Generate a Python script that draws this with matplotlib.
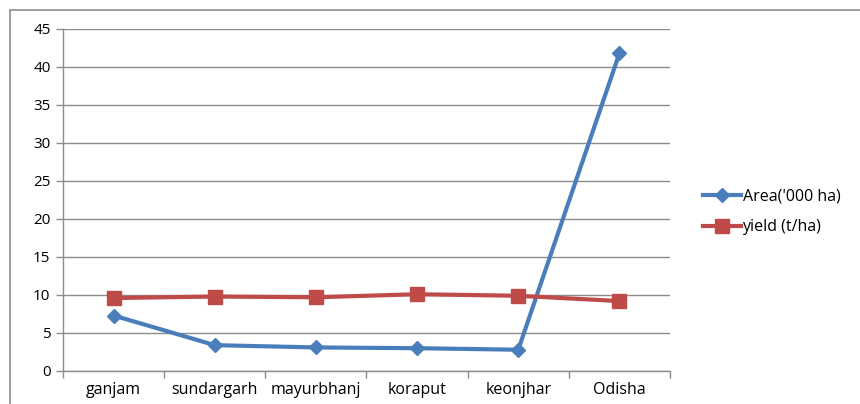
import numpy as np
import matplotlib.pyplot as plt
from matplotlib.patches import Rectangle

districts = ['ganjam', 'sundargarh', 'mayurbhanj', 'koraput', 'keonjhar', 'Odisha']
area = [7.3, 3.4, 3.1, 3.0, 2.8, 41.8]
yield_t = [9.6, 9.8, 9.7, 10.1, 9.9, 9.2]

plt.rcParams['font.family'] = ['Open Sans', 'DejaVu Sans']

fig = plt.figure(figsize=(8.6, 4.04), dpi=100)
# outer chart frame
fig.patches.append(Rectangle((10 / 860, -0.1), 1.0, 1 - 10 / 404 + 0.1,
                             transform=fig.transFigure, fill=False,
                             edgecolor='#8c8c8c', linewidth=1.2))

ax = fig.add_axes([63 / 860, 1 - 371 / 404, (670 - 63) / 860, (371 - 29) / 404])
x = np.arange(len(districts))

ax.plot(x, area, color='#4A7EBB', linewidth=3, marker='D', markersize=7,
        label="Area('000 ha)")
ax.plot(x, yield_t, color='#BE4B48', linewidth=3, marker='s', markersize=10,
        label='yield (t/ha)')

ax.set_xlim(-0.5, len(districts) - 0.5)
ax.set_ylim(0, 45)
ax.set_yticks(np.arange(0, 46, 5))
ax.set_xticks(x)
ax.set_xticklabels(districts, fontsize=11.5)
ax.set_xticks(np.arange(-0.5, len(districts)), minor=True)
ax.tick_params(axis='x', which='major', length=0, pad=8)
ax.tick_params(axis='x', which='minor', length=5, color='#8c8c8c', width=1)
ax.tick_params(axis='y', length=5, color='#8c8c8c', width=1, labelsize=11, pad=4)
ax.yaxis.grid(True, color='#8c8c8c', linewidth=1)
ax.set_axisbelow(True)
for s in ['top', 'right']:
    ax.spines[s].set_visible(False)
for s in ['left', 'bottom']:
    ax.spines[s].set_color('#8c8c8c')
    ax.spines[s].set_linewidth(1)

ax.legend(loc='center left', bbox_to_anchor=(1.03, 0.465), frameon=False,
          fontsize=11.5, handlelength=2.4, handletextpad=0.1, labelspacing=0.9)

fig.savefig('out.png', dpi=100)
